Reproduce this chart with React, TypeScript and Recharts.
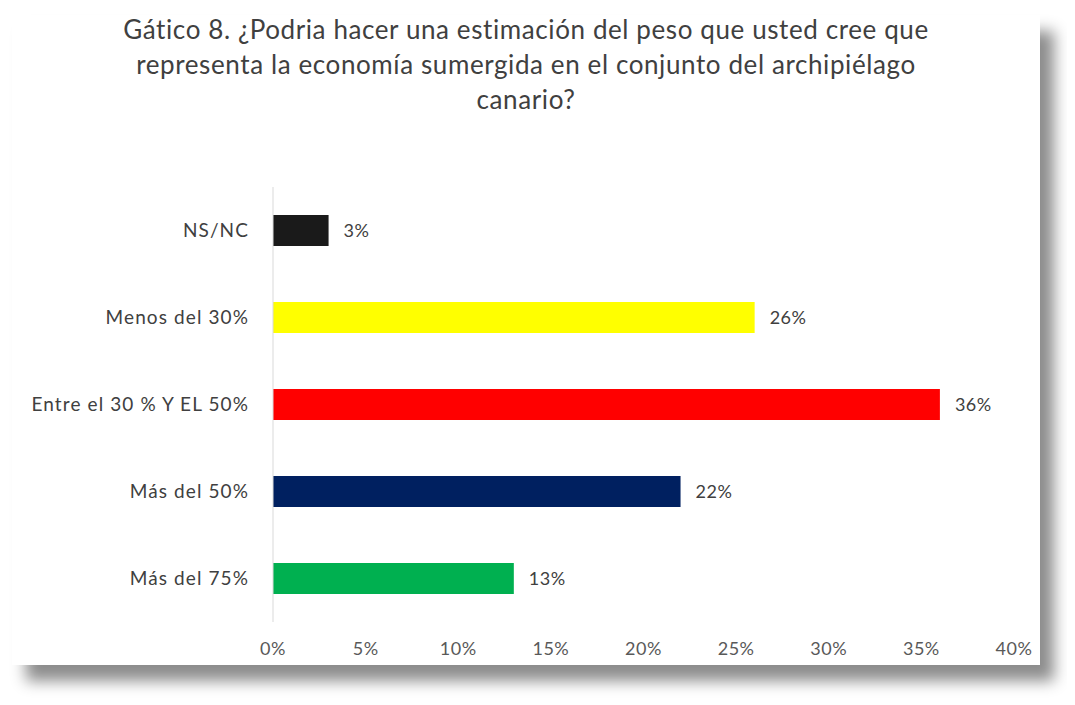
import React from "react";
import { BarChart, Bar, XAxis, YAxis, Cell, LabelList } from "recharts";

const categories = [
  "NS/NC",
  "Menos del 30%",
  "Entre el 30 % Y EL 50%",
  "Más del 50%",
  "Más del 75%",
];
const values = [3, 26, 36, 22, 13];
const barColors = ["#1a1a1a", "#ffff00", "#ff0000", "#002060", "#00b050"];
const xTicks = [0, 5, 10, 15, 20, 25, 30, 35, 40];
const titleLines = [
  "Gático 8. ¿Podria hacer una estimación del peso que usted cree que",
  "representa la economía sumergida en el conjunto del archipiélago",
  "canario?",
];

const data = categories.map((name, i) => ({ name, value: values[i] }));

const FONT = "Lato, 'Open Sans', sans-serif";

export default function App() {
  return (
    <div style={{ position: "relative", width: 1060, height: 690, fontFamily: FONT }}>
      <div
        style={{
          position: "absolute",
          left: 4,
          top: 7,
          width: 1028,
          height: 650,
          background: "#fff",
          boxShadow: "14px 16px 14px rgba(0,0,0,0.45)",
        }}
      >
        <div
          style={{
            position: "absolute",
            left: 0,
            top: -3,
            width: 1028,
            textAlign: "center",
            fontSize: 26,
            letterSpacing: 0.6,
            lineHeight: "35px",
            color: "#404040",
          }}
        >
          {titleLines.map((l) => (
            <div key={l}>{l}</div>
          ))}
        </div>
        <div style={{ position: "absolute", left: 0, top: 0 }}>
          <BarChart
            width={1028}
            height={650}
            data={data}
            layout="vertical"
            margin={{ top: 172, right: 26, bottom: 3, left: 0 }}
            barSize={31}
          >
            <XAxis
              type="number"
              domain={[0, 40]}
              ticks={xTicks}
              tickFormatter={(v) => `${v}%`}
              axisLine={false}
              tickLine={false}
              tickMargin={14}
              height={40}
              interval={0}
              tick={{ fill: "#595959", fontSize: 18, fontFamily: FONT, letterSpacing: 0.5 }}
            />
            <YAxis
              type="category"
              dataKey="name"
              width={261}
              axisLine={{ stroke: "#d9d9d9" }}
              tickLine={false}
              tickMargin={18}
              interval={0}
              tick={{ fill: "#404040", fontSize: 19, fontFamily: FONT, letterSpacing: 1.1 }}
            />
            <Bar dataKey="value" isAnimationActive={false}>
              {data.map((d, i) => (
                <Cell key={d.name} fill={barColors[i]} />
              ))}
              <LabelList
                dataKey="value"
                position="right"
                offset={15}
                formatter={(v: number) => `${v}%`}
                style={{ fill: "#404040", fontSize: 18, fontFamily: FONT, letterSpacing: 0.5 }}
              />
            </Bar>
          </BarChart>
        </div>
      </div>
    </div>
  );
}
